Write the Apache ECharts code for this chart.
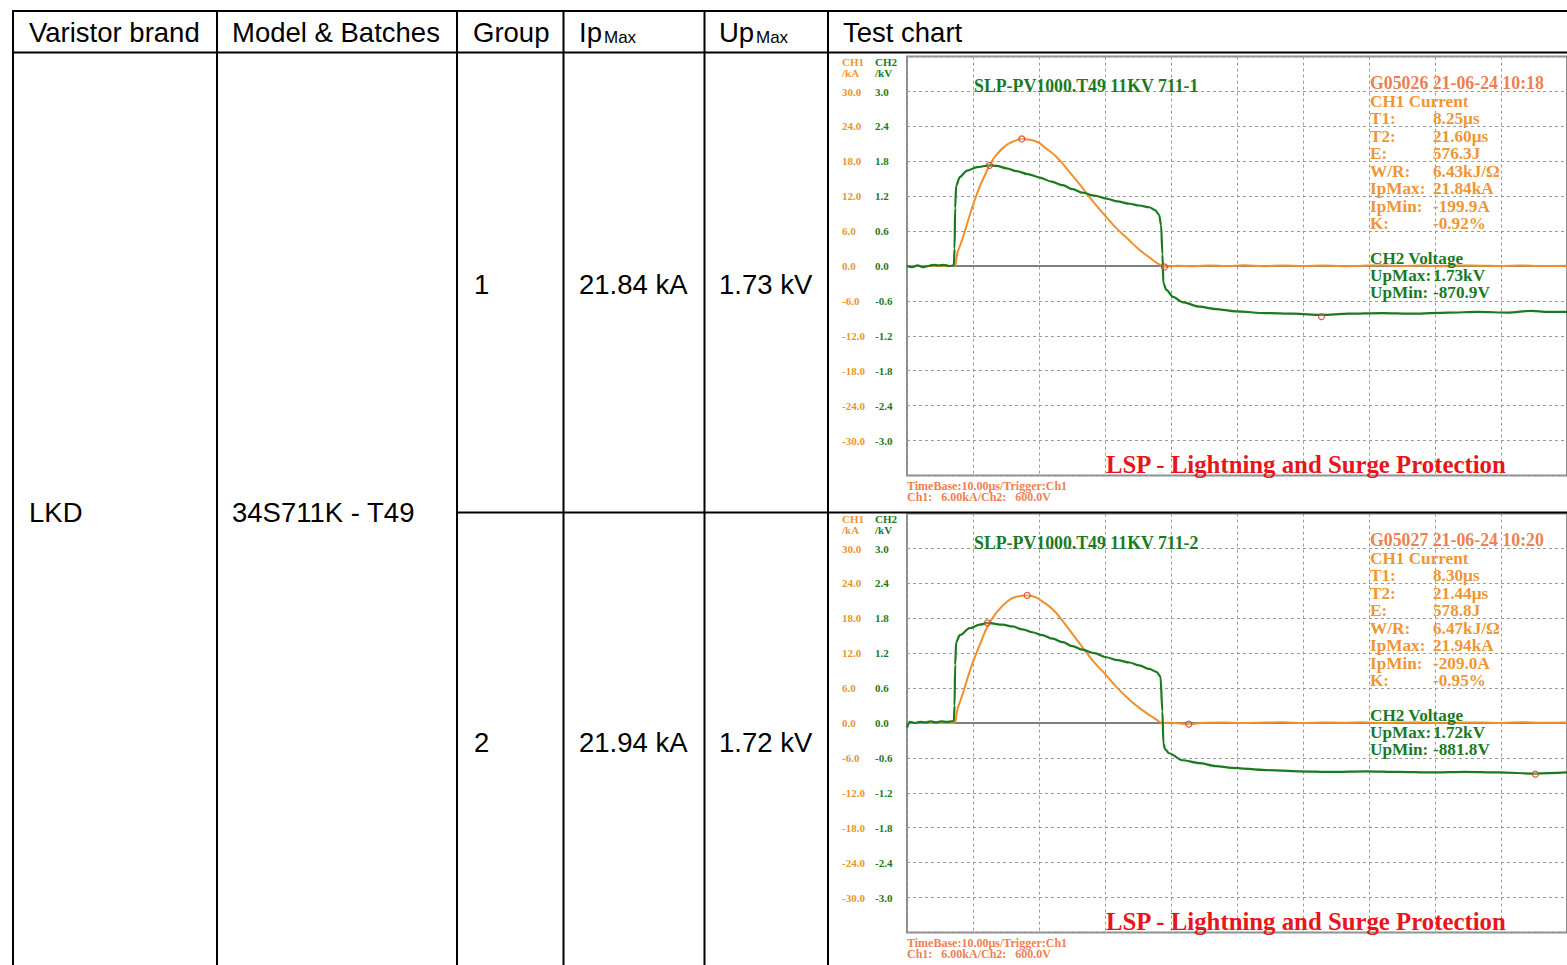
<!DOCTYPE html>
<html><head><meta charset="utf-8">
<script src="https://cdn.jsdelivr.net/npm/echarts@6/dist/echarts.min.js"></script>
<style>html,body{margin:0;padding:0;background:#fff}#c{width:1567px;height:965px}</style>
</head><body><div id="c"></div>
<script>
// ---------- table content ----------
const headers = ['Varistor brand', 'Model & Batches', 'Group', 'Ip', 'Up', 'Test chart'];
const headerSub = ['Max', 'Max'];
const brand = 'LKD';
const model = '34S711K - T49';
const groups = ['1', '2'];
const ipMaxText = ['21.84 kA', '21.94 kA'];
const upMaxText = ['1.73 kV', '1.72 kV'];

// ---------- oscilloscope content ----------
const scopeTitles = ['SLP-PV1000.T49 11KV 711-1', 'SLP-PV1000.T49 11KV 711-2'];
const scopeStamps = ['G05026 21-06-24 10:18', 'G05027 21-06-24 10:20'];
const ch1Labels = ['T1:', 'T2:', 'E:', 'W/R:', 'IpMax:', 'IpMin:', 'K:'];
const ch1Values1 = ['8.25µs', '21.60µs', '576.3J', '6.43kJ/Ω', '21.84kA', '-199.9A', '-0.92%'];
const ch1Values2 = ['8.30µs', '21.44µs', '578.8J', '6.47kJ/Ω', '21.94kA', '-209.0A', '-0.95%'];
const ch2Labels = ['UpMax:', 'UpMin:'];
const ch2Values1 = ['1.73kV', '-870.9V'];
const ch2Values2 = ['1.72kV', '-881.8V'];
const footer1 = 'TimeBase:10.00µs/Trigger:Ch1';
const footer2 = 'Ch1:   6.00kA/Ch2:   600.0V';
const brandLine = 'LSP - Lightning and Surge Protection';

// time in µs, current in kA
const current1 = [[0,0],[3,0],[6.9,0],[7.7,2.5],[8.5,5.0],[9.2,7.6],[10.1,10.8],[11.0,13.6],[11.8,15.6],[12.5,17.3],[13.6,19.2],[15.1,20.8],[16.3,21.5],[17.4,21.84],[18.6,21.7],[19.8,21.3],[21.1,20.2],[22.7,18.7],[24.6,16.2],[26.6,13.4],[28.4,10.8],[30.2,8.4],[31.9,6.3],[33.7,4.4],[35.2,2.8],[36.7,1.5],[37.9,0.5],[38.7,0.0],[39.0,-0.17],[41,0.05],[43.5,-0.05],[46,0.1],[48.5,0.0],[51,0.12],[54,-0.03],[57,0.08],[60,0.0],[63,0.1],[66,-0.05],[69,0.06],[72,0.12],[75,0.0],[78,0.08],[81,-0.04],[84,0.1],[87,0.05],[90,0.0],[93,0.1],[96,0.02],[100,0.06]];
// time in µs, voltage in kV
const voltage1 = [[0,0.0],[0.8,-0.02],[1.6,0.01],[2.4,-0.02],[3.2,0.0],[4.0,0.02],[4.8,0.01],[5.6,0.02],[6.4,0.0],[7.1,0.01],[7.2,0.3],[7.3,1.0],[7.45,1.38],[8.0,1.53],[9.1,1.64],[10.6,1.70],[12.5,1.73],[13.6,1.72],[15.1,1.68],[16.6,1.63],[18.3,1.58],[20.1,1.52],[21.9,1.45],[23.6,1.39],[25.1,1.32],[26.6,1.26],[28.4,1.21],[30.2,1.16],[31.9,1.11],[33.7,1.07],[35.2,1.04],[36.7,1.01],[37.6,0.96],[38.2,0.88],[38.5,0.70],[38.7,0.2],[38.85,-0.3],[39.3,-0.41],[40.3,-0.53],[41.7,-0.62],[44.3,-0.70],[46.8,-0.74],[49.8,-0.78],[54.4,-0.81],[58.6,-0.82],[62.8,-0.84],[66.9,-0.82],[71.9,-0.81],[76.7,-0.82],[82.0,-0.80],[86.6,-0.79],[91.1,-0.80],[94.6,-0.77],[97.1,-0.79],[100,-0.79]];
const current2 = [[0,0],[3,0],[6.9,0],[7.7,2.6],[8.5,5.2],[9.2,7.8],[10.1,10.8],[11.2,13.9],[12.2,16.6],[13.3,18.6],[15.1,20.8],[16.6,21.7],[18.2,21.94],[19.5,21.6],[20.5,20.9],[22.1,19.5],[23.6,17.5],[25.4,14.8],[27.2,12.1],[28.7,10.0],[30.2,8.2],[31.9,6.0],[33.7,4.0],[35.2,2.6],[36.7,1.4],[37.9,0.5],[38.7,0.0],[40,0.06],[42.7,-0.2],[45,0.05],[48,0.1],[51,-0.02],[54,0.08],[57,0.12],[60,0.0],[63,0.1],[66,0.04],[69,0.12],[72,0.0],[75,0.08],[78,0.1],[81,-0.03],[84,0.08],[87,0.1],[90,0.02],[93,0.12],[96,0.05],[100,0.1]];
const voltage2 = [[0,-0.08],[0.4,0.02],[1.2,0.0],[2.0,0.02],[2.8,0.01],[3.6,0.03],[4.4,0.01],[5.2,0.03],[6.0,0.02],[6.8,0.03],[7.1,0.03],[7.2,0.3],[7.3,1.0],[7.45,1.39],[8.0,1.51],[9.5,1.63],[11.0,1.69],[12.2,1.72],[14.5,1.69],[16.0,1.66],[17.5,1.61],[19.0,1.56],[20.5,1.51],[22.1,1.45],[23.6,1.39],[25.1,1.32],[26.6,1.26],[28.4,1.20],[30.2,1.13],[31.9,1.08],[33.7,1.04],[35.2,0.99],[36.7,0.93],[37.8,0.88],[38.4,0.80],[38.7,0.2],[38.85,-0.35],[39.1,-0.45],[39.7,-0.52],[41.7,-0.64],[44.3,-0.69],[46.8,-0.74],[49.2,-0.77],[54.4,-0.81],[59.4,-0.83],[64.4,-0.84],[69.5,-0.83],[74.5,-0.84],[79.5,-0.85],[84.6,-0.84],[89.6,-0.85],[95.2,-0.87],[100,-0.85]];
const ipMarks1 = [[17.4,21.84],[39.0,-0.17]];
const upMarks1 = [[12.5,1.73],[62.8,-0.87]];
const ipMarks2 = [[18.2,21.94],[42.7,-0.2]];
const upMarks2 = [[12.2,1.72],[95.2,-0.88]];

// ---------- styling ----------
const ORANGE = '#F0902A', GREEN = '#1B7A1F', ORANGE_TXT = '#EF9633', SALMON = '#EE7F4F', RED = '#E8151B';
const SANS = "Liberation Sans";
const SERIF = "Liberation Serif";
const plotTops = [56.6, 513.6];
const plotLeft = 907, plotW = 662, plotH = 418.8;

function txt(x, y, text, size, family, weight, fill, align, va) {
  return {type: 'text', x: x, y: y, z: 50, silent: true,
    style: {text: text, fontSize: size, fontFamily: family, fontWeight: weight, fill: fill,
      align: align || 'left', verticalAlign: va || 'middle'}};
}
function ln(x1, y1, x2, y2, w) {
  return {type: 'line', z: 60, silent: true, shape: {x1: x1, y1: y1, x2: x2, y2: y2},
    style: {stroke: '#000', lineWidth: w || 2}};
}

const g = [];
// table lines
g.push(ln(12, 11, 1567, 11));
g.push(ln(12, 52.5, 1567, 52.5));
[13, 217, 457, 563.5, 704.5, 828].forEach(x => g.push(ln(x, 10, x, 965)));
g.push(ln(457, 512.5, 1567, 512.5));
// headers
const hx = [29, 232, 473, 579, 719, 843];
const T = (x, y, s) => txt(x, y, s, 27.5, SANS, 'normal', '#000');
g.push(T(hx[0], 32, headers[0]));
g.push(T(hx[1], 32, headers[1]));
g.push(T(hx[2], 32, headers[2]));
g.push(T(hx[3], 32, headers[3]));
g.push(txt(hx[3] + 25, 37, headerSub[0], 17, SANS, 'normal', '#000'));
g.push(T(hx[4], 32, headers[4]));
g.push(txt(hx[4] + 37, 37, headerSub[1], 17, SANS, 'normal', '#000'));
g.push(T(hx[5], 32, headers[5]));
g.push(T(29, 512, brand));
g.push(T(232, 512, model));
const rowY = [284, 742];
groups.forEach((gr, i) => {
  g.push(T(474, rowY[i], gr));
  g.push(T(579, rowY[i], ipMaxText[i]));
  g.push(T(719, rowY[i], upMaxText[i]));
});

// oscilloscope annotations
const ch1Vals = [ch1Values1, ch1Values2], ch2Vals = [ch2Values1, ch2Values2];
const infoY = [83, 101, 118, 136, 153, 171, 188, 206, 223, 258, 275, 292];
plotTops.forEach((top, i) => {
  const o = top - plotTops[0];
  g.push(txt(842, 62 + o, 'CH1', 11, SERIF, 'bold', ORANGE_TXT));
  g.push(txt(842, 73 + o, '/kA', 11, SERIF, 'bold', ORANGE_TXT));
  g.push(txt(875, 62 + o, 'CH2', 11, SERIF, 'bold', GREEN));
  g.push(txt(875, 73 + o, '/kV', 11, SERIF, 'bold', GREEN));
  g.push(txt(974, 86 + o, scopeTitles[i], 17.8, SERIF, 'bold', GREEN));
  const B = (x, y, s, c, sz) => txt(x, y, s, sz || 17.2, SERIF, 'bold', c);
  g.push(B(1370, infoY[0] + o, scopeStamps[i], SALMON, 17.8));
  g.push(B(1370, infoY[1] + o, 'CH1 Current', ORANGE_TXT));
  ch1Labels.forEach((l, k) => {
    g.push(B(1370, infoY[2 + k] + o, l, ORANGE_TXT));
    g.push(B(1433, infoY[2 + k] + o, ch1Vals[i][k], ORANGE_TXT));
  });
  g.push(B(1370, infoY[9] + o, 'CH2 Voltage', GREEN));
  ch2Labels.forEach((l, k) => {
    g.push(B(1370, infoY[10 + k] + o, l, GREEN));
    g.push(B(1433, infoY[10 + k] + o, ch2Vals[i][k], GREEN));
  });
  g.push(txt(1106, 464 + o, brandLine, 24.8, SERIF, 'bold', RED));
  g.push(txt(907, 486 + o, footer1, 12, SERIF, 'bold', SALMON));
  g.push(txt(907, 497 + o, footer2, 12, SERIF, 'bold', SALMON));
});

const fmtI = v => Math.abs(v) > 35 ? '' : (Math.abs(v) < 1e-9 ? '0.0' : v.toFixed(1));
const fmtU = v => Math.abs(v) > 3.5 ? '' : (Math.abs(v) < 1e-9 ? '0.0' : v.toFixed(1));
const dash = {color: '#9a9a9a', width: 1, type: [3, 3]};

const grids = [], xAxes = [], yAxes = [], series = [];
const currents = [current1, current2], voltages = [voltage1, voltage2];
const ipMarks = [ipMarks1, ipMarks2], upMarks = [upMarks1, upMarks2];
plotTops.forEach((top, i) => {
  grids.push({left: plotLeft, top: top, width: plotW, height: plotH, show: true,
    borderColor: '#8c8c8c', borderWidth: 2, backgroundColor: 'transparent', containLabel: false});
  xAxes.push({type: 'value', gridIndex: i, min: 0, max: 100, interval: 10,
    axisLabel: {show: false}, axisTick: {show: false},
    axisLine: {show: true, onZero: true, lineStyle: {color: '#808080', width: 2}},
    splitLine: {show: true, lineStyle: dash}});
  yAxes.push({type: 'value', gridIndex: i, position: 'left', min: -36, max: 36, interval: 6,
    axisLine: {show: false}, axisTick: {show: false}, splitLine: {show: true, lineStyle: dash},
    axisLabel: {show: true, align: 'left', margin: 65, color: '#E8952F', fontFamily: SERIF,
      fontWeight: 'bold', fontSize: 11, formatter: fmtI}});
  yAxes.push({type: 'value', gridIndex: i, position: 'left', min: -3.6, max: 3.6, interval: 0.6,
    axisLine: {show: false}, axisTick: {show: false}, splitLine: {show: false},
    axisLabel: {show: true, align: 'left', margin: 32, color: GREEN, fontFamily: SERIF,
      fontWeight: 'bold', fontSize: 11, formatter: fmtU}});
  series.push({type: 'line', xAxisIndex: i, yAxisIndex: 2 * i, data: currents[i], symbol: 'none',
    smooth: 0.5, lineStyle: {color: ORANGE, width: 2}, z: 2});
  series.push({type: 'line', xAxisIndex: i, yAxisIndex: 2 * i + 1, data: voltages[i], symbol: 'none',
    smooth: 0.3, smoothMonotone: 'x', lineStyle: {color: GREEN, width: 2.2}, z: 3});
  const mk = {color: 'rgba(255,255,255,0.3)', borderColor: '#D8321E', borderWidth: 1.2};
  series.push({type: 'scatter', xAxisIndex: i, yAxisIndex: 2 * i, data: ipMarks[i], symbol: 'circle',
    symbolSize: 6, itemStyle: mk, z: 5});
  series.push({type: 'scatter', xAxisIndex: i, yAxisIndex: 2 * i + 1, data: upMarks[i], symbol: 'circle',
    symbolSize: 6, itemStyle: mk, z: 5});
});

const chart = echarts.init(document.getElementById('c'), null, {renderer: 'svg', width: 1567, height: 965});
chart.setOption({
  animation: false,
  backgroundColor: '#fff',
  grid: grids, xAxis: xAxes, yAxis: yAxes, series: series,
  graphic: {elements: g}
});
</script></body></html>
